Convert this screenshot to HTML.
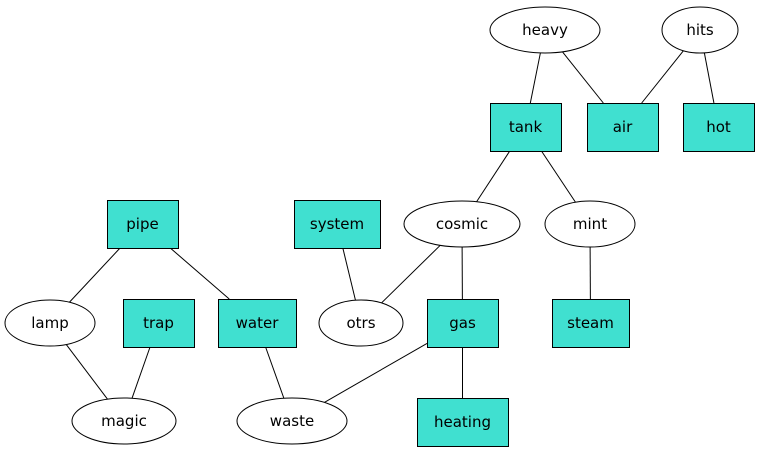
<!DOCTYPE html>
<html>
<head>
<meta charset="utf-8">
<style>
  html,body{margin:0;padding:0;background:#fff;}
  svg{display:block;}
  text{font-family:"DejaVu Sans","Liberation Sans",sans-serif;font-size:15px;fill:#000;}
</style>
</head>
<body>
<svg id="graph" width="760" height="453" viewBox="0 0 760 453" xmlns="http://www.w3.org/2000/svg">
  <g id="edges"></g>
  <g id="nodes"></g>
</svg>
<script>
const nodeNames = ["heavy","hits","tank","air","hot","pipe","system","cosmic","mint","lamp","trap","water","otrs","gas","steam","magic","waste","heating"];
const nodeShapes = ["ellipse","ellipse","box","box","box","box","box","ellipse","ellipse","ellipse","box","box","ellipse","box","box","ellipse","ellipse","box"];
const nodeX = [545,700,525.5,622.5,718.5,142.5,337,462,590,50,158.5,257,361,462.5,590.5,124,292,462.5];
const nodeY = [30,30,127,127,127,224,224,224,224,323,323,323,323,323,323,421,421,422];
const nodeW = [110,76,71,71,71,71,86,116,90,90,71,78,84,71,77,104,110,91];
const nodeH = [46,46,48,48,48,48,48,46,46,46,48,48,46,48,48,46,46,48];
const edgeFrom = ["heavy","heavy","hits","hits","tank","tank","pipe","pipe","system","cosmic","cosmic","mint","lamp","trap","water","gas","gas"];
const edgeTo = ["tank","air","air","hot","cosmic","mint","lamp","water","otrs","otrs","gas","steam","magic","magic","waste","waste","heating"];

const NS = "http://www.w3.org/2000/svg";
const eg = document.getElementById("edges");
const ng = document.getElementById("nodes");

function boundary(i, tx, ty) {
  const cx = nodeX[i], cy = nodeY[i], hw = nodeW[i]/2, hh = nodeH[i]/2;
  const dx = tx - cx, dy = ty - cy;
  if (dx === 0 && dy === 0) return [cx, cy];
  let t;
  if (nodeShapes[i] === "box") {
    t = Math.min(dx !== 0 ? hw/Math.abs(dx) : Infinity, dy !== 0 ? hh/Math.abs(dy) : Infinity);
  } else {
    t = 1/Math.sqrt((dx*dx)/(hw*hw) + (dy*dy)/(hh*hh));
  }
  return [cx + dx*t, cy + dy*t];
}

for (let k = 0; k < edgeFrom.length; k++) {
  const a = nodeNames.indexOf(edgeFrom[k]), b = nodeNames.indexOf(edgeTo[k]);
  const p = boundary(a, nodeX[b], nodeY[b]);
  const q = boundary(b, nodeX[a], nodeY[a]);
  const l = document.createElementNS(NS, "line");
  l.setAttribute("x1", p[0]); l.setAttribute("y1", p[1]);
  l.setAttribute("x2", q[0]); l.setAttribute("y2", q[1]);
  l.setAttribute("stroke", "#000"); l.setAttribute("stroke-width", "1");
  
  
  eg.appendChild(l);
}

for (let i = 0; i < nodeNames.length; i++) {
  const g = document.createElementNS(NS, "g");
  
  
  let s;
  if (nodeShapes[i] === "box") {
    s = document.createElementNS(NS, "rect");
    s.setAttribute("x", nodeX[i] - nodeW[i]/2 + 0.5);
    s.setAttribute("y", nodeY[i] - nodeH[i]/2 + 0.5);
    s.setAttribute("width", nodeW[i]);
    s.setAttribute("height", nodeH[i]);
    s.setAttribute("fill", "#40e0d0");
  } else {
    s = document.createElementNS(NS, "ellipse");
    s.setAttribute("cx", nodeX[i]); s.setAttribute("cy", nodeY[i]);
    s.setAttribute("rx", nodeW[i]/2); s.setAttribute("ry", nodeH[i]/2);
    s.setAttribute("fill", "#fff");
  }
  s.setAttribute("stroke", "#000"); s.setAttribute("stroke-width", "1");
  g.appendChild(s);
  const t = document.createElementNS(NS, "text");
  t.setAttribute("x", nodeX[i]); t.setAttribute("y", nodeY[i] + 5);
  t.setAttribute("text-anchor", "middle");
  t.textContent = nodeNames[i];
  
  
  g.appendChild(t);
  ng.appendChild(g);
}
</script>
</body>
</html>
